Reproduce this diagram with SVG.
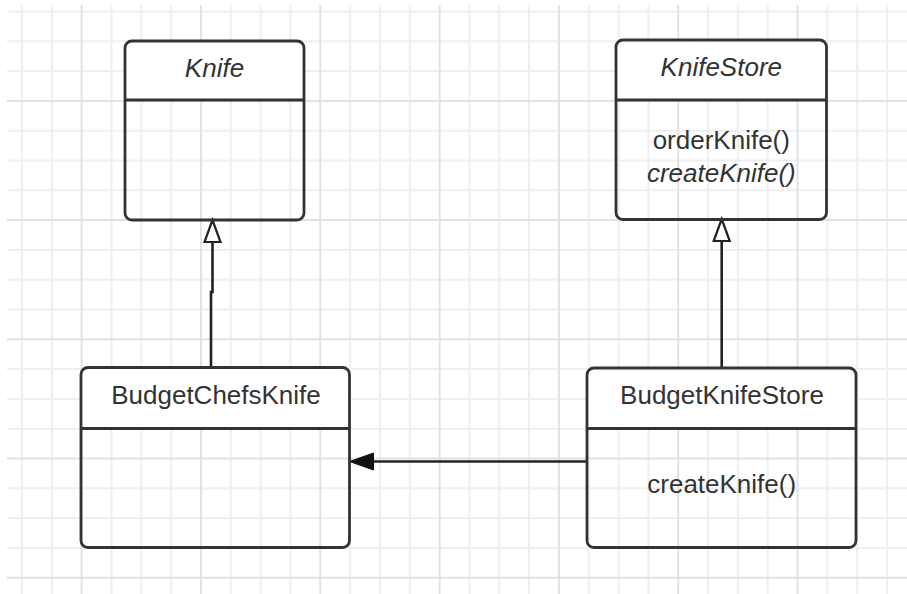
<svg xmlns="http://www.w3.org/2000/svg" width="907" height="594" viewBox="0 0 907 594">
<style>
.grid-l{stroke:#efefef;stroke-width:2;fill:none}
.grid-d{stroke:#e2e2e2;stroke-width:2;fill:none}
.box{fill:none;stroke:#333;stroke-width:2.8}
.hdr{fill:#fff;stroke:none}
.div{stroke:#333;stroke-width:2.8}
.t{font-family:"Liberation Sans",Arial,sans-serif;font-size:26px;fill:#333;text-anchor:middle}
.i{font-style:italic}
.conn{fill:none;stroke:#222;stroke-width:2.6}
</style>
<defs>
<marker id="hollow" markerUnits="userSpaceOnUse" viewBox="-2 -2 26 20" refX="0" refY="8" markerWidth="26" markerHeight="20" orient="auto" overflow="visible">
<path d="M0,0 L22,8 L0,16 Z" fill="#fff" stroke="#222" stroke-width="2.2" stroke-linejoin="miter"/>
</marker>
<marker id="filled" markerUnits="userSpaceOnUse" viewBox="-2 -2 28 21" refX="0" refY="8.5" markerWidth="28" markerHeight="21" orient="auto" overflow="visible">
<path d="M0,0 L24,8.5 L0,17 Z" fill="#111" stroke="#111" stroke-width="1"/>
</marker>
</defs>
<rect width="907" height="594" fill="#fff"/>
<g id="grid">
<path class="grid-l" d="M22,5V594M51.83,5V594M111.49,5V594M141.32,5V594M171.15,5V594M230.81,5V594M260.64,5V594M290.47,5V594M350.13,5V594M379.96,5V594M409.79,5V594M469.45,5V594M499.28,5V594M529.11,5V594M588.77,5V594M618.6,5V594M648.43,5V594M708.09,5V594M737.92,5V594M767.75,5V594M827.41,5V594M857.24,5V594M887.07,5V594M7,11.5H907M7,41.3H907M7,71.1H907M7,130.7H907M7,160.5H907M7,190.3H907M7,249.9H907M7,279.7H907M7,309.5H907M7,369.1H907M7,398.9H907M7,428.7H907M7,488.3H907M7,518.1H907M7,547.9H907"/>
<path class="grid-d" d="M81.66,5V594M200.98,5V594M320.3,5V594M439.62,5V594M558.94,5V594M678.26,5V594M797.58,5V594M7,100.9H907M7,220.1H907M7,339.3H907M7,458.5H907M7,577.7H907"/>
</g>
<g id="connectors">
<path class="conn" d="M211,367 V292 H212.5 V242" marker-end="url(#hollow)"/>
<path class="conn" d="M721.7,368 V241" marker-end="url(#hollow)"/>
<path class="conn" d="M588,461.5 H373.5" marker-end="url(#filled)"/>
</g>
<g id="knife">
<path class="hdr" d="M125,100 V48 Q125,41 132,41 H297 Q304,41 304,48 V100 Z"/>
<rect class="box" x="125" y="41" width="179" height="179" rx="7"/>
<line class="div" x1="125" y1="100" x2="304" y2="100"/>
<text class="t i" x="214.5" y="77">Knife</text>
</g>
<g id="knifestore">
<path class="hdr" d="M616,100 V47 Q616,40 623,40 H819.5 Q826.5,40 826.5,47 V100 Z"/>
<rect class="box" x="616" y="40" width="210.5" height="179.5" rx="7"/>
<line class="div" x1="616" y1="100" x2="826.5" y2="100"/>
<text class="t i" x="721.3" y="75.5">KnifeStore</text>
<text class="t" x="721.3" y="149">orderKnife()</text>
<text class="t i" x="721.3" y="181.5">createKnife()</text>
</g>
<g id="budgetchefsknife">
<path class="hdr" d="M81,428.5 V374.5 Q81,367.5 88,367.5 H342.5 Q349.5,367.5 349.5,374.5 V428.5 Z"/>
<rect class="box" x="81" y="367.5" width="268.5" height="180" rx="7"/>
<line class="div" x1="81" y1="428.5" x2="349.5" y2="428.5"/>
<text class="t" x="216" y="404">BudgetChefsKnife</text>
</g>
<g id="budgetknifestore">
<path class="hdr" d="M587,428.5 V375 Q587,368 594,368 H849 Q856,368 856,375 V428.5 Z"/>
<rect class="box" x="587" y="368" width="269" height="179.5" rx="7"/>
<line class="div" x1="587" y1="428.5" x2="856" y2="428.5"/>
<text class="t" x="722" y="404">BudgetKnifeStore</text>
<text class="t" x="721.7" y="493">createKnife()</text>
</g>
</svg>
